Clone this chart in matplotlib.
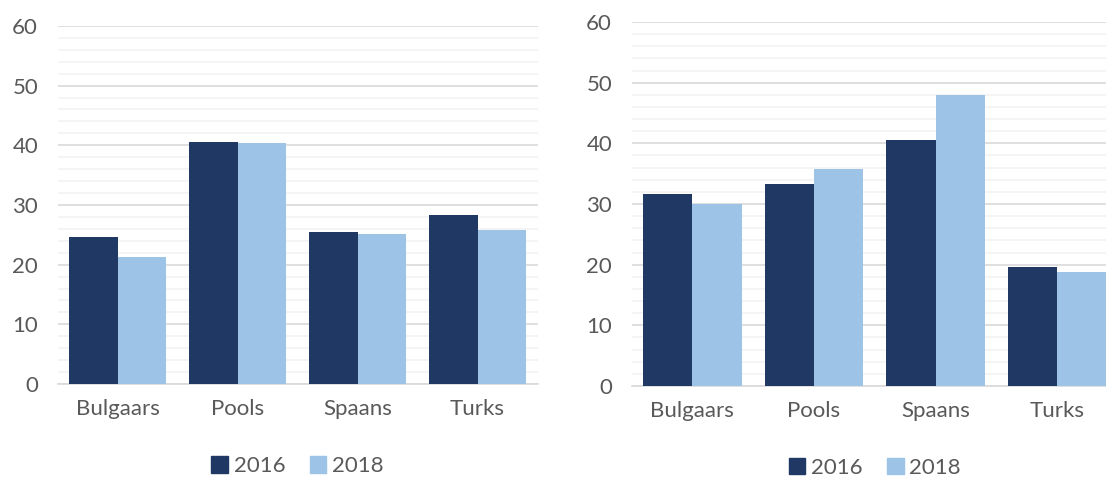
import numpy as np
import matplotlib
matplotlib.use('Agg')
import matplotlib.pyplot as plt
from matplotlib.patches import Patch

plt.rcParams['font.family'] = ['Lato', 'DejaVu Sans']

talen = ['Bulgaars', 'Pools', 'Spaans', 'Turks']
jaren = ['2016', '2018']

# linker grafiek
links_2016 = [24.6, 40.5, 25.5, 28.3]
links_2018 = [21.3, 40.4, 25.1, 25.8]

# rechter grafiek
rechts_2016 = [31.6, 33.3, 40.5, 19.6]
rechts_2018 = [30.0, 35.7, 47.9, 18.8]

DONKER = '#203864'
LICHT = '#9DC3E6'
TEKST = '#595959'
FS = 16

fig = plt.figure(figsize=(11.06, 4.8), dpi=100)
ax1 = fig.add_axes([0.052, 0.2, 0.434, 0.746])
ax2 = fig.add_axes([0.571, 0.196, 0.44, 0.758])


def teken(ax, v2016, v2018, legend_y):
    x = np.arange(len(talen))
    w = 0.405
    ax.bar(x - w / 2, v2016, w, color=DONKER, zorder=3)
    ax.bar(x + w / 2, v2018, w, color=LICHT, zorder=3)
    ax.set_xlim(-0.5, len(talen) - 0.5)
    ax.set_ylim(0, 60)
    ax.set_yticks(range(0, 61, 10))
    ax.set_yticks(range(0, 61, 2), minor=True)
    ax.grid(axis='y', which='major', color='#d9d9d9', linewidth=1.2, zorder=0)
    ax.grid(axis='y', which='minor', color='#f2f2f2', linewidth=1.2, zorder=0)
    ax.set_xticks(x)
    ax.set_xticklabels(talen)
    for s in ['top', 'right', 'left']:
        ax.spines[s].set_visible(False)
    ax.spines['bottom'].set_color('#d9d9d9')
    ax.spines['bottom'].set_linewidth(1.2)
    ax.tick_params(axis='both', which='both', length=0, labelsize=FS,
                   colors=TEKST)
    ax.tick_params(axis='x', pad=11)
    ax.tick_params(axis='y', pad=14)
    handles = [Patch(color=DONKER), Patch(color=LICHT)]
    ax.legend(handles, jaren, loc='center', bbox_to_anchor=(0.5, legend_y),
              ncol=2, frameon=False, fontsize=FS, labelcolor=TEKST,
              handlelength=0.75, handleheight=0.75, handletextpad=0.25,
              columnspacing=1.1)


teken(ax1, links_2016, links_2018, -0.23)
teken(ax2, rechts_2016, rechts_2018, -0.225)

fig.savefig('out.png', dpi=100)
